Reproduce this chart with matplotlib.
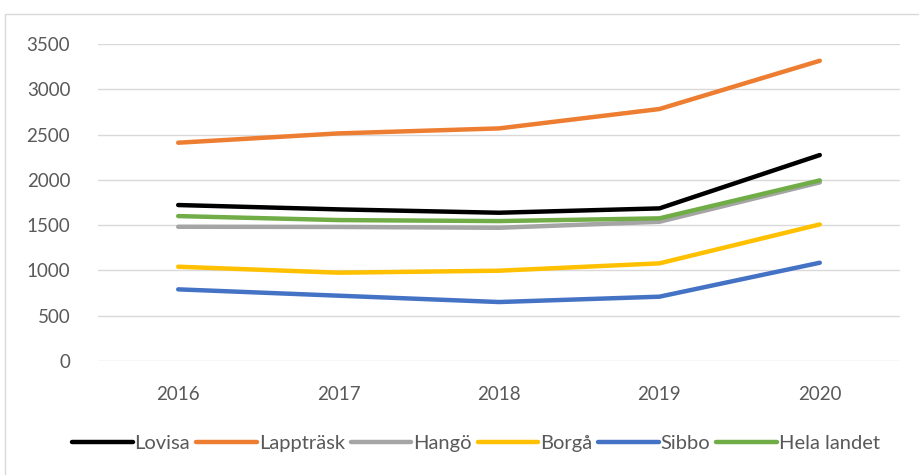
import matplotlib
matplotlib.use("Agg")
from matplotlib import pyplot as plt
from matplotlib.patches import Rectangle

years = ["2016", "2017", "2018", "2019", "2020"]
lovisa = [1722, 1674, 1637, 1685, 2274]
lapptrask = [2410, 2513, 2568, 2782, 3315]
hango = [1482, 1480, 1471, 1537, 1972]
borga = [1041, 975, 997, 1078, 1508]
sibbo = [791, 721, 651, 710, 1085]
hela_landet = [1600, 1556, 1545, 1575, 1994]

series = [
    ("Lovisa", lovisa, "#000000"),
    ("Lappträsk", lapptrask, "#ED7D31"),
    ("Hangö", hango, "#A5A5A5"),
    ("Borgå", borga, "#FFC000"),
    ("Sibbo", sibbo, "#4472C4"),
    ("Hela landet", hela_landet, "#70AD47"),
]

plt.rcParams['font.family'] = ['Lato', 'DejaVu Sans']

fig = plt.figure(figsize=(9.2, 4.75), dpi=100)
# chart border
fig.patches.append(Rectangle((5 / 920, -0.1), 1.0, (475 - 14) / 475 + 0.1,
                             transform=fig.transFigure, fill=False,
                             edgecolor="#D9D9D9", lw=1))

ax = fig.add_axes([98 / 920, 1 - 361 / 475, (900 - 98) / 920, (361 - 44) / 475])
x = range(len(years))
for name, vals, col in series:
    ax.plot(x, vals, color=col, lw=3.2, label=name, solid_capstyle="round")

ax.set_xlim(-0.5, len(years) - 0.5)
ax.set_ylim(0, 3500)
ax.set_yticks(range(0, 3501, 500))
ax.set_xticks(list(x))
ax.set_xticklabels(years)
ax.grid(axis="y", color="#D9D9D9", lw=1)
ax.set_axisbelow(True)
for s in ax.spines.values():
    s.set_visible(False)
ax.tick_params(length=0, labelsize=13.5, colors="#595959")
ax.tick_params(axis="x", pad=18)
ax.tick_params(axis="y", pad=20)

leg = fig.legend(loc="center", bbox_to_anchor=(476 / 920, 1 - 443 / 475), ncol=6,
                 frameon=False, fontsize=14.5, handlelength=3.0,
                 handletextpad=0.1, columnspacing=0.3)
for t in leg.get_texts():
    t.set_color("#595959")

fig.savefig("out.png", dpi=100)
